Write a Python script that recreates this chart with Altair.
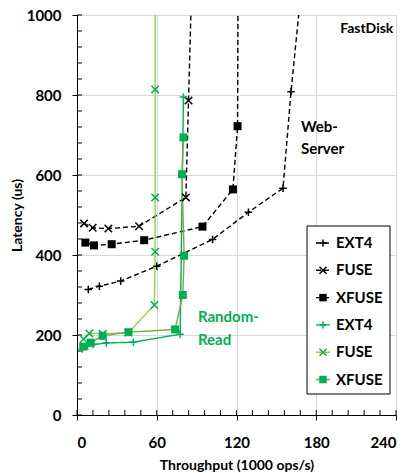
import altair as alt
import pandas as pd

# ---- data ----
web_ext4_x = [8.5, 16.8, 32.9, 60.0, 102.0, 129.0, 155.0, 161.0, 169.8]
web_ext4_y = [314, 322, 335, 372, 439, 507, 567, 808, 1100]
web_fuse_x = [5.3, 11.8, 23.6, 46.7, 81.9, 83.9, 86.5]
web_fuse_y = [479, 468, 466, 472, 544, 786, 1100]
web_xfuse_x = [6.3, 12.8, 26.1, 50.5, 94.4, 117.3, 120.8, 121.2]
web_xfuse_y = [431, 424, 427, 437, 471, 564, 722, 1100]

rr_ext4_x = [4.0, 8.0, 12.0, 22.0, 42.4, 77.6, 80.1]
rr_ext4_y = [165, 172, 176, 180, 182, 202, 795]
rr_fuse_x = [5.0, 9.3, 19.3, 38.7, 58.2, 58.8, 58.8, 58.8, 58.8]
rr_fuse_y = [190, 204, 203, 206, 275, 408, 544, 814, 1100]
rr_xfuse_x = [4.7, 10.3, 19.3, 38.7, 73.8, 79.6, 80.6, 79.0, 80.1]
rr_xfuse_y = [171, 181, 198, 207, 214, 300, 398, 602, 694]

series_keys = ["wEXT4", "wFUSE", "wXFUSE", "rEXT4", "rFUSE", "rXFUSE"]
legend_labels = ["EXT4", "FUSE", "XFUSE", "EXT4", "FUSE", "XFUSE"]
x_ticks = [0, 60, 120, 180, 240]
y_ticks = [0, 200, 400, 600, 800, 1000]
x_minor = list(range(0, 241, 12))
y_minor = list(range(0, 1001, 40))

# ---- styles ----
GREEN = "#00B050"
line_colors = ["black", "black", "black", GREEN, "#92D050", "#70AD47"]
marker_colors = ["black", "black", "black", GREEN, GREEN, GREEN]
dashes = [[5, 3], [5, 3], [5, 3], [1, 0], [1, 0], [1, 0]]
PLUS = "M-1,0L1,0M0,-1L0,1"
XSH = "M-1,-1L1,1M-1,1L1,-1"
SQ = "M-1,-1L1,-1L1,1L-1,1Z"
shapes = [PLUS, XSH, SQ, PLUS, XSH, SQ]
FONT = "Lato"

pairs = [(web_ext4_x, web_ext4_y), (web_fuse_x, web_fuse_y), (web_xfuse_x, web_xfuse_y),
         (rr_ext4_x, rr_ext4_y), (rr_fuse_x, rr_fuse_y), (rr_xfuse_x, rr_xfuse_y)]
rows = []
for key, (xs, ys) in zip(series_keys, pairs):
    for i, (a, b) in enumerate(zip(xs, ys)):
        rows.append({"series": key, "x": a, "y": b, "idx": i})
df = pd.DataFrame(rows)

xscale = alt.Scale(domain=[0, 240], nice=False)
yscale = alt.Scale(domain=[0, 1000], nice=False)

xenc = alt.X("x:Q", scale=xscale, axis=alt.Axis(
    values=x_ticks, format="d", title="Throughput (1000 ops/s)", grid=True, gridColor="#d9d9d9",
    tickSize=5, tickColor="black", domainColor="black", labelPadding=15,
    labelFontSize=15, labelFontWeight="bold", titleFontSize=14, titleFontWeight="bold",
    titlePadding=8, labelColor="black", titleColor="black", labelFont=FONT, titleFont=FONT))
yenc = alt.Y("y:Q", scale=yscale, axis=alt.Axis(
    values=y_ticks, format="d", title="Latency (us)", grid=True, gridColor="#d9d9d9",
    tickSize=5, tickColor="black", domainColor="black", labelPadding=11,
    labelFontSize=15, labelFontWeight="bold", titleFontSize=14, titleFontWeight="bold",
    titlePadding=2, labelColor="black", titleColor="black", labelFont=FONT, titleFont=FONT))

base = alt.Chart(df)
lines = base.mark_line(clip=True, strokeWidth=1.4).encode(
    x=xenc, y=yenc,
    color=alt.Color("series:N", scale=alt.Scale(domain=series_keys, range=line_colors), legend=None),
    strokeDash=alt.StrokeDash("series:N", scale=alt.Scale(domain=series_keys, range=dashes), legend=None),
    order="idx:Q",
)
stroke_pts = base.transform_filter(
    alt.FieldOneOfPredicate(field="series", oneOf=["wEXT4", "wFUSE", "rEXT4", "rFUSE"])
).mark_point(clip=True, filled=False, strokeWidth=1.5, size=56, opacity=1).encode(
    x="x:Q", y="y:Q",
    shape=alt.Shape("series:N", scale=alt.Scale(domain=series_keys, range=shapes), legend=None),
    stroke=alt.Stroke("series:N", scale=alt.Scale(domain=series_keys, range=marker_colors), legend=None),
)
sq_pts = base.transform_filter(
    alt.FieldOneOfPredicate(field="series", oneOf=["wXFUSE", "rXFUSE"])
).mark_square(clip=True, filled=True, size=64, opacity=1).encode(
    x="x:Q", y="y:Q",
    fill=alt.Fill("series:N", scale=alt.Scale(domain=series_keys, range=marker_colors), legend=None),
)

# minor ticks (inside)
xm = alt.Chart(pd.DataFrame({"v": x_minor})).mark_rule(color="black", strokeWidth=1).encode(
    x="v:Q", y=alt.value(400), y2=alt.value(395))
ym = alt.Chart(pd.DataFrame({"v": y_minor})).mark_rule(color="black", strokeWidth=1).encode(
    y="v:Q", x=alt.value(0), x2=alt.value(5))

# annotations (data coordinates)
ann = pd.DataFrame({
    "x": [238, 168.5, 168.5, 91, 91],
    "y": [964, 720, 665, 244, 188],
    "t": ["FastDisk", "Web-", "Server", "Random-", "Read"],
    "c": ["black", "black", "black", GREEN, GREEN],
    "a": ["right", "left", "left", "left", "left"],
})
ann_r = alt.Chart(ann[ann.a == "right"]).mark_text(
    align="right", baseline="middle", font=FONT, fontWeight="bold", fontSize=14, color="black"
).encode(x="x:Q", y="y:Q", text="t:N")
ann_l = alt.Chart(ann[ann.a == "left"]).mark_text(
    align="left", baseline="middle", font=FONT, fontWeight="bold", fontSize=15
).encode(x="x:Q", y="y:Q", text="t:N",
         color=alt.Color("c:N", scale=None))

# manual legend (layout in pixels)
leg_layers = []
box = alt.Chart(pd.DataFrame({"a": [0]})).mark_rect(
    fill="white", stroke="black", strokeWidth=1).encode(
    x=alt.value(230), x2=alt.value(313), y=alt.value(211), y2=alt.value(379))
leg_layers.append(box)
one = pd.DataFrame({"a": [0]})
for i, lab in enumerate(legend_labels):
    yy = 228 + i * 27.3
    leg_layers.append(alt.Chart(one).mark_rule(
        color=line_colors[i], strokeWidth=1.4, strokeDash=dashes[i]).encode(
        x=alt.value(239), x2=alt.value(253), y=alt.value(yy)))
    if shapes[i] == SQ:
        leg_layers.append(alt.Chart(one).mark_square(
            filled=True, size=56, color=marker_colors[i], opacity=1).encode(
            x=alt.value(246), y=alt.value(yy)))
    else:
        leg_layers.append(alt.Chart(one).mark_point(
            shape=shapes[i], filled=False, size=49, strokeWidth=1.5,
            color=marker_colors[i], opacity=1).encode(
            x=alt.value(246), y=alt.value(yy)))
    leg_layers.append(alt.Chart(one).mark_text(
        text=lab, align="left", baseline="middle", font=FONT, fontWeight="bold",
        fontSize=15, color="black").encode(
        x=alt.value(259), y=alt.value(yy)))

chart = alt.layer(
    xm, ym, lines, stroke_pts, sq_pts, ann_r, ann_l, *leg_layers
).properties(
    width=319, height=400,
    padding={"left": 77, "top": 15, "right": 13, "bottom": 58},
    autosize=alt.AutoSizeParams(type="none"),
).configure_view(stroke="black", strokeWidth=1.2).configure(background="white")

chart.save("out.html", embed_options={"renderer": "svg", "actions": False})
